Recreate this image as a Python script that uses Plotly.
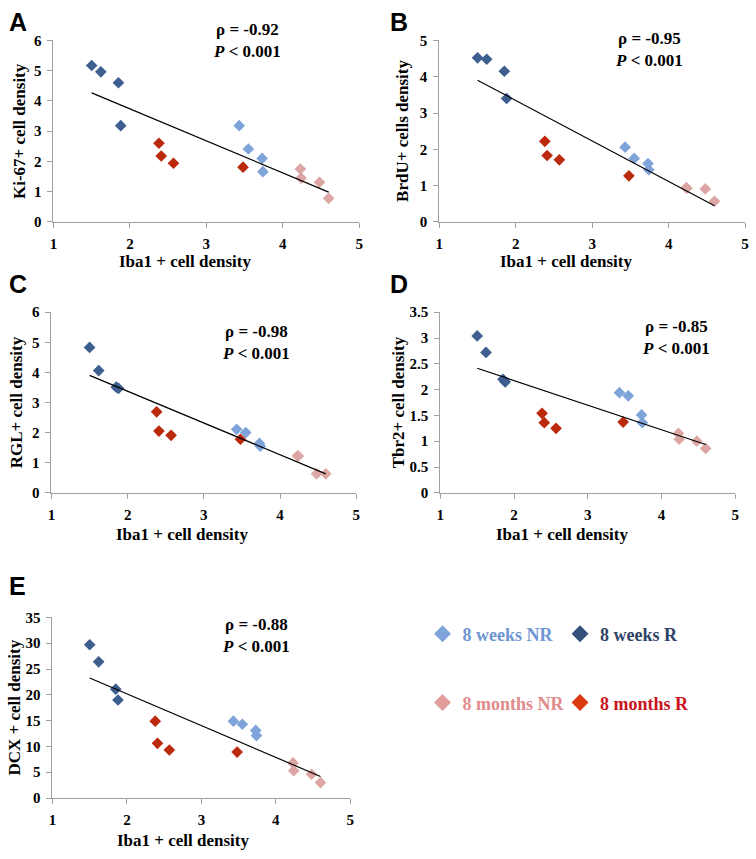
import numpy as np
import plotly.graph_objects as go

W, H = 756, 859

# ---------------- data ----------------
groups = ["8 weeks NR", "8 weeks R", "8 months NR", "8 months R"]
marker_colors = ["#7ea4da", "#3d5e8f", "#dba6a4", "#bb2a0c"]
legend_marker_colors = ["#7ea4da", "#34507d", "#e39c9c", "#d93a10"]
legend_text_colors = ["#6f95d2", "#2e4466", "#e08a8b", "#c8141a"]

# Iba1+ cell density (x), per group
x_wk_nr = [3.43, 3.55, 3.73, 3.74]
x_wk_r = [1.50, 1.62, 1.85, 1.88]
x_mo_nr = [4.23, 4.24, 4.48, 4.60]
x_mo_r = [2.38, 2.41, 2.57, 3.48]
x_groups = [x_wk_nr, x_wk_r, x_mo_nr, x_mo_r]

# Panel A: Ki-67+
ki67_wk_nr = [3.18, 2.41, 2.10, 1.66]
ki67_wk_r = [5.17, 4.96, 4.60, 3.18]
ki67_mo_nr = [1.75, 1.45, 1.31, 0.78]
ki67_mo_r = [2.60, 2.18, 1.94, 1.81]
# Panel B: BrdU+
brdu_wk_nr = [2.06, 1.75, 1.61, 1.44]
brdu_wk_r = [4.52, 4.48, 4.15, 3.40]
brdu_mo_nr = [0.94, 0.93, 0.91, 0.57]
brdu_mo_r = [2.22, 1.83, 1.71, 1.27]
# Panel C: RGL+
rgl_wk_nr = [2.11, 2.00, 1.64, 1.55]
rgl_wk_r = [4.83, 4.06, 3.51, 3.47]
rgl_mo_nr = [1.23, 1.22, 0.63, 0.63]
rgl_mo_r = [2.69, 2.05, 1.91, 1.78]
# Panel D: Tbr2+
tbr2_wk_nr = [1.94, 1.88, 1.51, 1.36]
tbr2_wk_r = [3.04, 2.72, 2.20, 2.15]
tbr2_mo_nr = [1.15, 1.04, 1.00, 0.86]
tbr2_mo_r = [1.54, 1.36, 1.25, 1.37]
# Panel E: DCX+
dcx_wk_nr = [14.9, 14.3, 13.1, 12.1]
dcx_wk_r = [29.7, 26.4, 21.1, 19.0]
dcx_mo_nr = [6.8, 5.3, 4.6, 3.0]
dcx_mo_r = [14.9, 10.6, 9.3, 8.9]

panel_letters = ["A", "B", "C", "D", "E"]
y_titles = ["Ki-67+ cell density", "BrdU+ cells density", "RGL+ cell density",
            "Tbr2+ cell density", "DCX + cell density"]
x_title = "Iba1 + cell density"
rho_texts = ["ρ = -0.92", "ρ = -0.95", "ρ = -0.98", "ρ = -0.85", "ρ = -0.88"]
p_text = "<i>P</i> < 0.001"
y_ranges = [[0, 6], [0, 5], [0, 6], [0, 3.5], [0, 35]]
y_dticks = [1, 1, 1, 0.5, 5]
x_range = [1, 5]

panel_y = [
    [ki67_wk_nr, ki67_wk_r, ki67_mo_nr, ki67_mo_r],
    [brdu_wk_nr, brdu_wk_r, brdu_mo_nr, brdu_mo_r],
    [rgl_wk_nr, rgl_wk_r, rgl_mo_nr, rgl_mo_r],
    [tbr2_wk_nr, tbr2_wk_r, tbr2_mo_nr, tbr2_mo_r],
    [dcx_wk_nr, dcx_wk_r, dcx_mo_nr, dcx_mo_r],
]

# ---------------- layout helpers (screen pixel -> paper) ----------------
def px(v):
    return min(1.0, max(0.0, v / W))

def py(v):
    return min(1.0, max(0.0, 1 - v / H))

# plot-area boxes in screen pixels: (left, right, top, bottom)
boxes = [
    (50, 359, 33, 218),
    (440, 749, 33, 218),
    (48, 356, 310, 494),
    (441, 739, 310, 494),
    (49, 350, 621, 805),
]
letter_pos = [(14, 14), (399, 14), (14, 281), (399, 281), (14, 589)]
rho_pos = [(246, 33), (652, 42), (255, 341), (679, 336), (255, 639)]
xtitle_pos = [(183, 258), (568, 258), (180, 537), (564, 537), (181, 848)]
ytitle_x = [15, 402, 13, 399, 11]

SERIF = "Liberation Serif"
SANS = "Liberation Sans"
AXCOL = "#a0a0a0"

fig = go.Figure()
annotations = []
layout = dict(
    width=W, height=H,
    margin=dict(l=0, r=0, t=0, b=0),
    paper_bgcolor="white", plot_bgcolor="white",
    showlegend=True,
)

legend_names = ["legend", "legend2", "legend3", "legend4"]

for i in range(5):
    n = "" if i == 0 else str(i + 1)
    xa, ya = "x" + n, "y" + n
    l, r, t, b = boxes[i]
    axis_common = dict(
        showgrid=False, zeroline=False, showline=True, linecolor=AXCOL, linewidth=1,
        ticks="outside", tickcolor=AXCOL, ticklen=5, tickwidth=1,
        ticklabelstandoff=3,
        tickfont=dict(family=SERIF, size=15, color="black", weight="bold"),
    )
    layout["xaxis" + n] = dict(
        domain=[px(l), px(r)], range=x_range, dtick=1, tick0=1, anchor=ya,
        **axis_common,
    )
    layout["yaxis" + n] = dict(
        domain=[py(b), py(t)], range=y_ranges[i], dtick=y_dticks[i], tick0=0, anchor=xa,
        **axis_common,
    )
    ys = panel_y[i]
    for g in range(4):
        fig.add_trace(go.Scatter(
            x=x_groups[g], y=ys[g], mode="markers", name=groups[g],
            marker=dict(symbol="diamond", size=9, color=marker_colors[g]),
            xaxis=xa, yaxis=ya, showlegend=False,
        ))
    # linear trendline fitted to all points in panel
    all_x = np.concatenate([np.array(v) for v in x_groups])
    all_y = np.concatenate([np.array(v) for v in ys])
    slope, intercept = np.polyfit(all_x, all_y, 1)
    tx = np.array([all_x.min(), all_x.max()])
    fig.add_trace(go.Scatter(
        x=tx, y=slope * tx + intercept, mode="lines",
        line=dict(color="black", width=1.2), xaxis=xa, yaxis=ya,
        showlegend=False, hoverinfo="skip",
    ))
    # panel letter
    annotations.append(dict(
        x=px(letter_pos[i][0]), y=py(letter_pos[i][1]), xref="paper", yref="paper",
        text=panel_letters[i], showarrow=False, xanchor="center", yanchor="middle",
        font=dict(family=SANS, size=25, color="black", weight="bold"),
    ))
    # rho / P text
    annotations.append(dict(
        x=px(rho_pos[i][0]), y=py(rho_pos[i][1]), xref="paper", yref="paper",
        text=rho_texts[i] + "<br>" + p_text, showarrow=False, xanchor="center", yanchor="middle",
        align="center",
        font=dict(family=SERIF, size=17, color="black", weight="bold"),
    ))
    # x-axis title
    annotations.append(dict(
        x=px(xtitle_pos[i][0]), y=py(xtitle_pos[i][1]), xref="paper", yref="paper",
        text=x_title, showarrow=False, xanchor="center", yanchor="middle",
        font=dict(family=SERIF, size=17, color="black", weight="bold"),
    ))
    # y-axis title
    annotations.append(dict(
        x=px(ytitle_x[i]), y=py((t + b) / 2), xref="paper", yref="paper",
        text=y_titles[i], showarrow=False, xanchor="center", yanchor="middle",
        textangle=-90,
        font=dict(family=SERIF, size=17, color="black", weight="bold"),
    ))

# legend-only entries (bigger symbols), one legend per group for its text colour
for g in range(4):
    fig.add_trace(go.Scatter(
        x=[None], y=[None], mode="markers", name=groups[g],
        marker=dict(symbol="diamond", size=13, color=legend_marker_colors[g]),
        showlegend=True, legend=legend_names[g],
    ))

legend_pos = [(423, 638), (562, 638), (423, 708), (562, 708)]
for g in range(4):
    layout[legend_names[g]] = dict(
        x=px(legend_pos[g][0]), y=py(legend_pos[g][1]), xanchor="left", yanchor="middle",
        xref="paper", yref="paper", bgcolor="rgba(0,0,0,0)",
        font=dict(family=SERIF, size=18, color=legend_text_colors[g], weight="bold"),
        itemsizing="trace",
    )

layout["annotations"] = annotations
fig.update_layout(**layout)
# remove the browser's default 8px body margin so the figure fills the window exactly
fig.write_html(
    "out.html",
    config={"displayModeBar": False},
    post_script="document.body.style.margin='0';document.body.style.overflow='hidden';",
)
